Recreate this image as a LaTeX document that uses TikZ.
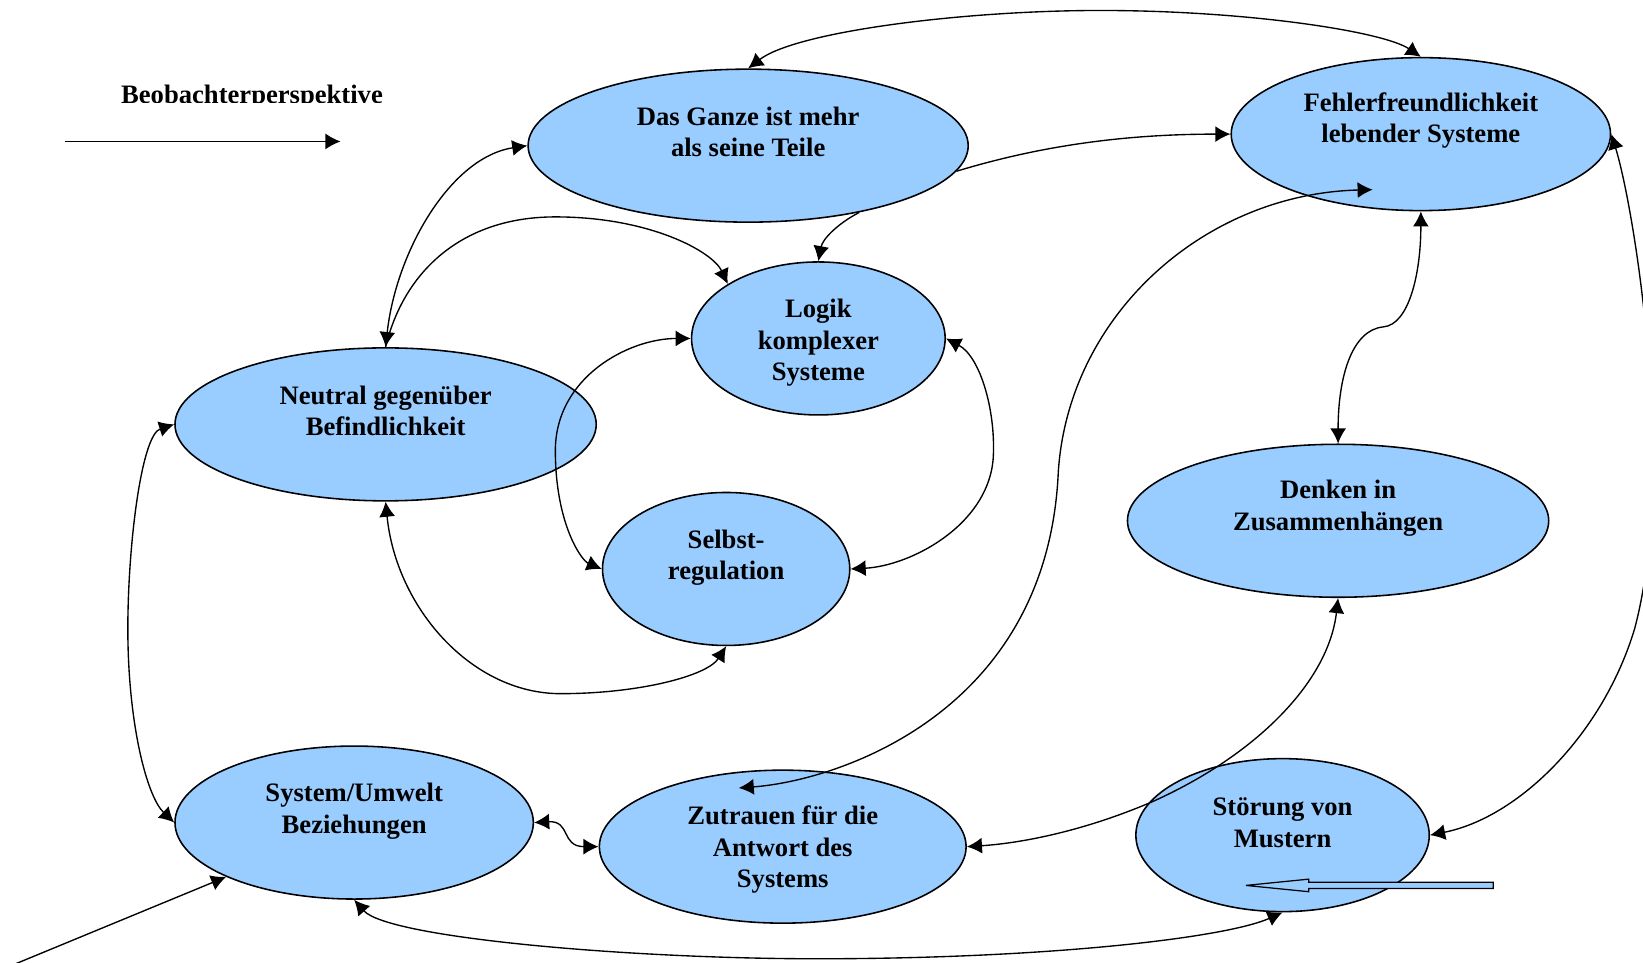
\documentclass[tikz,border=0pt]{standalone}
\usepackage{fontspec}
\setmainfont{Liberation Serif}
\usetikzlibrary{shapes.geometric,arrows.meta}
\definecolor{bubblefill}{HTML}{99CCFF}
\begin{document}
\begin{tikzpicture}[x=0.5pt,y=-0.5pt,
  bubble/.style={ellipse,draw,fill=bubblefill,line width=0.75pt,inner sep=0pt},
  caption/.style={font=\fontsize{12.7}{15}\selectfont\bfseries,align=center,inner sep=0pt},
  link/.style={line width=0.65pt,{Latex[length=7.2pt,width=7.6pt]}-{Latex[length=7.2pt,width=7.6pt]}},
  oneway/.style={line width=0.65pt,-{Latex[length=7.2pt,width=7.6pt]}}]
\clip (0,0) rectangle (1568,919);

% concept bubbles
\node[bubble,minimum width=210pt,minimum height=73pt] (ganze)    at (714,139) {};
\node[bubble,minimum width=181pt,minimum height=73pt] (fehler)   at (1356,128) {};
\node[bubble,minimum width=121pt,minimum height=73pt] (logik)    at (781,323) {};
\node[bubble,minimum width=201pt,minimum height=73pt] (neutral)  at (368,405) {};
\node[bubble,minimum width=118pt,minimum height=73pt] (selbst)   at (693,543) {};
\node[bubble,minimum width=201pt,minimum height=73pt] (denken)   at (1277,497) {};
\node[bubble,minimum width=171pt,minimum height=73pt] (system)   at (338,785) {};
\node[bubble,minimum width=175pt,minimum height=73pt] (zutrauen) at (747,808) {};
\node[bubble,minimum width=140pt,minimum height=73pt] (stoerung) at (1224,797) {};

% bubble captions
\node[caption] (ganzeT)    at (714,126)  {Das Ganze ist mehr\\als seine Teile};
\node[caption] (fehlerT)   at (1356,115) {Fehlerfreundlichkeit\\lebender Systeme};
\node[caption] (logikT)    at (781,327)  {Logik\\komplexer\\Systeme};
\node[caption] (neutralT)  at (368,392)  {Neutral gegenüber\\Befindlichkeit};
\node[caption] (selbstT)   at (693,532)  {Selbst-\\regulation};
\node[caption] (denkenT)   at (1277,485) {Denken in\\Zusammenhängen};
\node[caption] (systemT)   at (338,774)  {System/Umwelt\\Beziehungen};
\node[caption] (zutrauenT) at (747,811)  {Zutrauen für die\\Antwort des\\Systems};
\node[caption] (stoerungT) at (1224,785) {Störung von\\Mustern};

% observer perspective
\begin{scope}
  \clip (0,0) rectangle (1568,97.5);
  \node[caption,anchor=base] (obsT) at (240.5,99) {Beobachterperspektive};
\end{scope}
\coordinate (obsA) at (62,135);
\coordinate (obsB) at (325,135);
\draw[oneway] (obsA) -- (obsB);

% connectors
\draw[link] (ganze.north) .. controls (760,30) and (920,10) .. (1050,10)
            .. controls (1190,10) and (1320,30) .. (fehler.north);
\draw[oneway] (ganze.-7) .. controls (990,140) and (1070,128) .. (fehler.west);
\draw[oneway] (ganze.-31) .. controls (800,213) and (785,228) .. (logik.north);
\draw[link] (neutral.north) .. controls (378,240) and (430,150) .. (ganze.west);
\draw[oneway] (neutral.north) .. controls (385,260) and (440,207) .. (530,207)
              .. controls (620,207) and (680,240) .. (logik.149);
\draw[link] (logik.west) .. controls (600,323) and (530,360) .. (530,430)
            .. controls (530,500) and (555,535) .. (selbst.west);
\draw[link] (logik.east) .. controls (935,340) and (950,390) .. (948,435)
            .. controls (945,500) and (870,540) .. (selbst.east);
\draw[link] (neutral.south) .. controls (378,580) and (450,662) .. (535,662)
            .. controls (610,662) and (675,645) .. (selbst.south);
\draw[link] (neutral.west) .. controls (135,415) and (122,520) .. (122,600)
            .. controls (122,690) and (140,760) .. (system.west);
\draw[link] (system.east) .. controls (545,783) and (535,808) .. (zutrauen.west);
\draw[link] (system.south) .. controls (370,895) and (600,915) .. (780,915)
            .. controls (1000,915) and (1170,895) .. (stoerung.south);
\coordinate (inflow) at (12,921);
\draw[oneway] (inflow) -- (system.203);
\draw[link] ([shift={(-46,53)}]fehler.center) .. controls (1150,185) and (1020,300) .. (1010,450)
            .. controls (1000,680) and (800,745) .. ([shift={(-42,-56)}]zutrauen.center);
\draw[link] (fehler.south) .. controls (1356,260) and (1345,310) .. (1320,312)
            .. controls (1290,315) and (1277,360) .. (denken.north);
\draw[link] (denken.south) .. controls (1268,650) and (1200,720) .. (1100,765)
            .. controls (1030,795) and (970,805) .. (zutrauen.east);
\draw[link] (fehler.east) .. controls (1560,200) and (1600,450) .. (1560,600)
            .. controls (1530,700) and (1450,780) .. (stoerung.east);

% hollow block arrow pointing into the disturbance bubble
\draw[fill=bubblefill,line width=0.6pt] (1425,842) -- (1249,842) -- (1249,839) -- (1189,845)
      -- (1249,851) -- (1249,848) -- (1425,848) -- cycle;
\end{tikzpicture}
\end{document}
